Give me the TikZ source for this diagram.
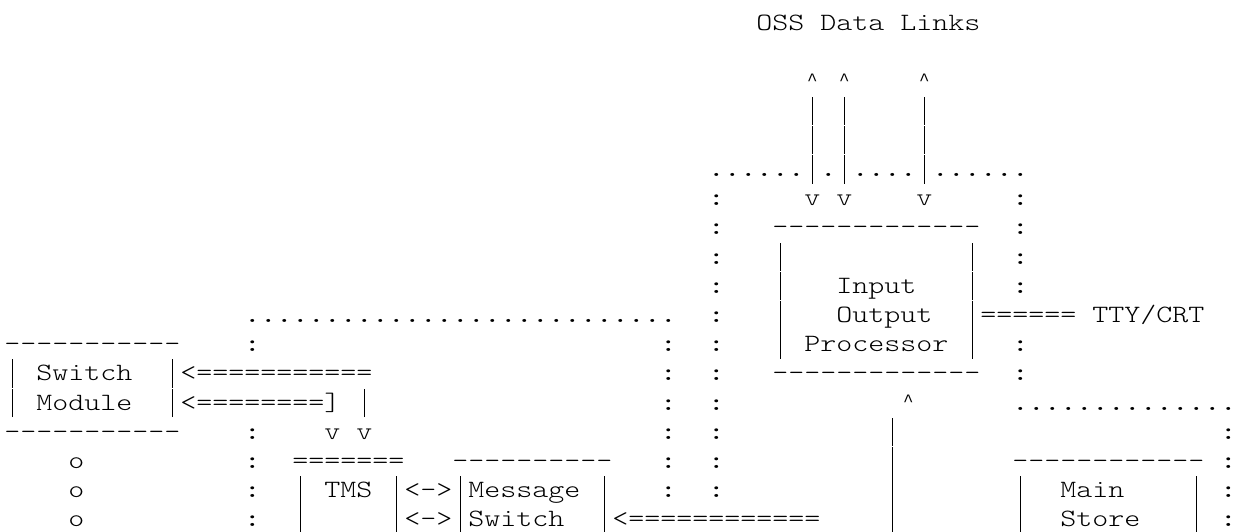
\documentclass[tikz,border=0pt]{standalone}
\usepackage{fontspec}
\usepackage{tikz}
\newfontfamily\asciifont{lmmonolt10-regular.otf}[FakeStretch=1.224]
\newfontfamily\asciidots{lmmono10-regular.otf}[FakeStretch=1.224]
\newfontfamily\asciicaret{Liberation Mono}
\newcommand\asciibar{\makebox[8pt]{\rule[-3.5pt]{0.6pt}{14.3pt}}}
\newcommand\asciiup{\makebox[8pt]{\raisebox{1.6pt}{\textasciicircum}}}

\begin{document}
\begin{tikzpicture}[x=8pt,y=-14.6pt,
        ascii/.style={anchor=base west,inner sep=0pt,font={\asciifont\fontsize{12.45pt}{14.6pt}\selectfont}},
        frame/.style={ascii,font={\asciidots\fontsize{12.45pt}{14.6pt}\selectfont}},
        caret/.style={ascii,font={\asciicaret\fontsize{8.7pt}{14.6pt}\selectfont}}]
        \useasboundingbox (-2pt,15.25pt) rectangle (618pt,-250.25pt);

        \node[ascii] (oss) at (47,0) {OSS Data Links};
        \node[caret] (ossupa) at (50,2) {\asciiup};
        \node[caret] (ossupb) at (52,2) {\asciiup};
        \node[caret] (ossupc) at (57,2) {\asciiup};
        \node[ascii] (osslinea) at (50,3) {\asciibar\ \asciibar};
        \node[ascii] (osslineb) at (57,3) {\asciibar};
        \node[ascii] (osslinec) at (50,4) {\asciibar\ \asciibar};
        \node[ascii] (osslined) at (57,4) {\asciibar};
        \node[frame] (iopframe) at (44,5) {......\asciibar.\asciibar....\asciibar......};
        \node[ascii] (ossdowna) at (50,6) {v v};
        \node[ascii] (ossdownb) at (57,6) {v};

        \node[ascii] (ioptop) at (48,7) {-------------};
        \node[ascii] (iopla) at (48,8) {\asciibar};
        \node[ascii] (iopra) at (60,8) {\asciibar};
        \node[ascii] (ioplb) at (48,9) {\asciibar};
        \node[ascii] (iopin) at (52,9) {Input};
        \node[ascii] (ioprb) at (60,9) {\asciibar};
        \node[ascii] (ioplc) at (48,10) {\asciibar};
        \node[ascii] (iopout) at (52,10) {Output};
        \node[ascii] (tty) at (60,10) {\asciibar====== TTY/CRT};
        \node[ascii] (iopld) at (48,11) {\asciibar};
        \node[ascii] (iopproc) at (50,11) {Processor};
        \node[ascii] (ioprd) at (60,11) {\asciibar};
        \node[ascii] (iopbot) at (48,12) {-------------};
        \node[caret] (iopup) at (56,13) {\asciiup};
        \foreach \r in {14,...,17}
            \node[ascii] (ioplink\r) at (55,\r) {\asciibar};

        \foreach \r in {6,...,16}
            \node[frame] (iopleft\r) at (44,\r) {:};
        \foreach \r in {6,7,8,9,11,12}
            \node[frame] (iopright\r) at (63,\r) {:};

        \node[frame] (smframe) at (15,10) {...........................};
        \foreach \r in {11,14,15,16,17}
            \node[frame] (smleft\r) at (15,\r) {:};
        \foreach \r in {11,...,16}
            \node[frame] (smright\r) at (41,\r) {:};

        \node[ascii] (swtop) at (0,11) {-----------};
        \node[ascii] (swla) at (0,12) {\asciibar};
        \node[ascii] (sw) at (2,12) {Switch};
        \node[ascii] (swlinka) at (10,12) {\asciibar<===========};
        \node[ascii] (swlb) at (0,13) {\asciibar};
        \node[ascii] (swmod) at (2,13) {Module};
        \node[ascii] (swlinkb) at (10,13) {\asciibar<========]\ \asciibar};
        \node[ascii] (swbot) at (0,14) {-----------};
        \foreach \r in {15,16,17}
            \node[ascii] (swmore\r) at (4,\r) {o};

        \node[ascii] (tmsdown) at (20,14) {v v};
        \node[ascii] (tmstop) at (18,15) {=======};
        \node[ascii] (tmsla) at (18,16) {\asciibar};
        \node[ascii] (tms) at (20,16) {TMS};
        \node[ascii] (tmsra) at (24,16) {\asciibar<->\asciibar Message};
        \node[ascii] (tmslb) at (18,17) {\asciibar};
        \node[ascii] (tmsrb) at (24,17) {\asciibar<->\asciibar Switch};

        \node[ascii] (mstop) at (28,15) {----------};
        \node[ascii] (msra) at (37,16) {\asciibar};
        \node[ascii] (mslink) at (37,17) {\asciibar<============};

        \node[frame] (stframe) at (63,13) {..............};
        \foreach \r in {14,...,17}
            \node[frame] (stright\r) at (76,\r) {:};
        \node[ascii] (sttop) at (63,15) {------------};
        \node[ascii] (stla) at (63,16) {\asciibar};
        \node[ascii] (stmain) at (66,16) {Main};
        \node[ascii] (stra) at (74,16) {\asciibar};
        \node[ascii] (stlb) at (63,17) {\asciibar};
        \node[ascii] (ststore) at (66,17) {Store};
        \node[ascii] (strb) at (74,17) {\asciibar};
\end{tikzpicture}
\end{document}
